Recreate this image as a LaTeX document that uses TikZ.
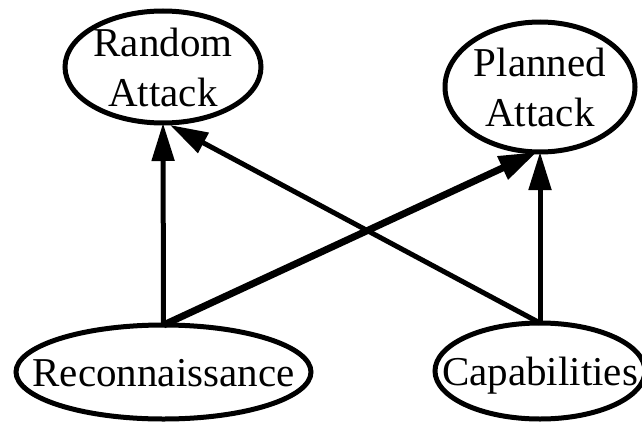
\documentclass[tikz,border=0pt]{standalone}
\usepackage{fontspec}
\setmainfont{Liberation Serif}
\usetikzlibrary{shapes.geometric,arrows.meta}
\tikzset{
  oval/.style={ellipse, draw, line width=5pt, inner sep=0pt, outer sep=0pt},
  caption/.style={inner sep=0pt, font=\fontsize{41}{50}\selectfont, align=center},
  link/.style={line width=5pt, -{Triangle[length=38pt,width=22pt]}},
  heavylink/.style={line width=7pt, -{Triangle[length=38pt,width=24pt]}}
}
\begin{document}
\begin{tikzpicture}[x=1pt,y=-1pt]
  \useasboundingbox (0,0) rectangle (642,423);
  % goals (top row)
  \node[oval, minimum width=196pt, minimum height=112pt] (random) at (163,67) {};
  \node[caption] (randomtxt) at (random.center) {Random\\Attack};
  \node[oval, minimum width=190pt, minimum height=130pt] (planned) at (540,87) {};
  \node[caption] (plannedtxt) at (planned.center) {Planned\\Attack};
  % sources (bottom row)
  \node[oval, minimum width=295pt, minimum height=94pt] (recon) at (163.5,372) {};
  \node[caption, text height=28pt, text depth=0pt] (recontxt) at (recon.center) {Reconnaissance};
  \node[oval, minimum width=210pt, minimum height=96pt] (cap) at (540,371) {};
  \node[caption, text height=28pt, text depth=0pt] (captxt) at (cap.center) {Capabilities};
  % influences
  \draw[link] (recon.north) -- (random.south);
  \draw[link] (cap.north) -- ([xshift=7pt,yshift=-2pt]random.south);
  \draw[link] (cap.north) -- (planned.south);
  \draw[heavylink] (recon.north) -- ([xshift=-3pt]planned.south);
\end{tikzpicture}
\end{document}
